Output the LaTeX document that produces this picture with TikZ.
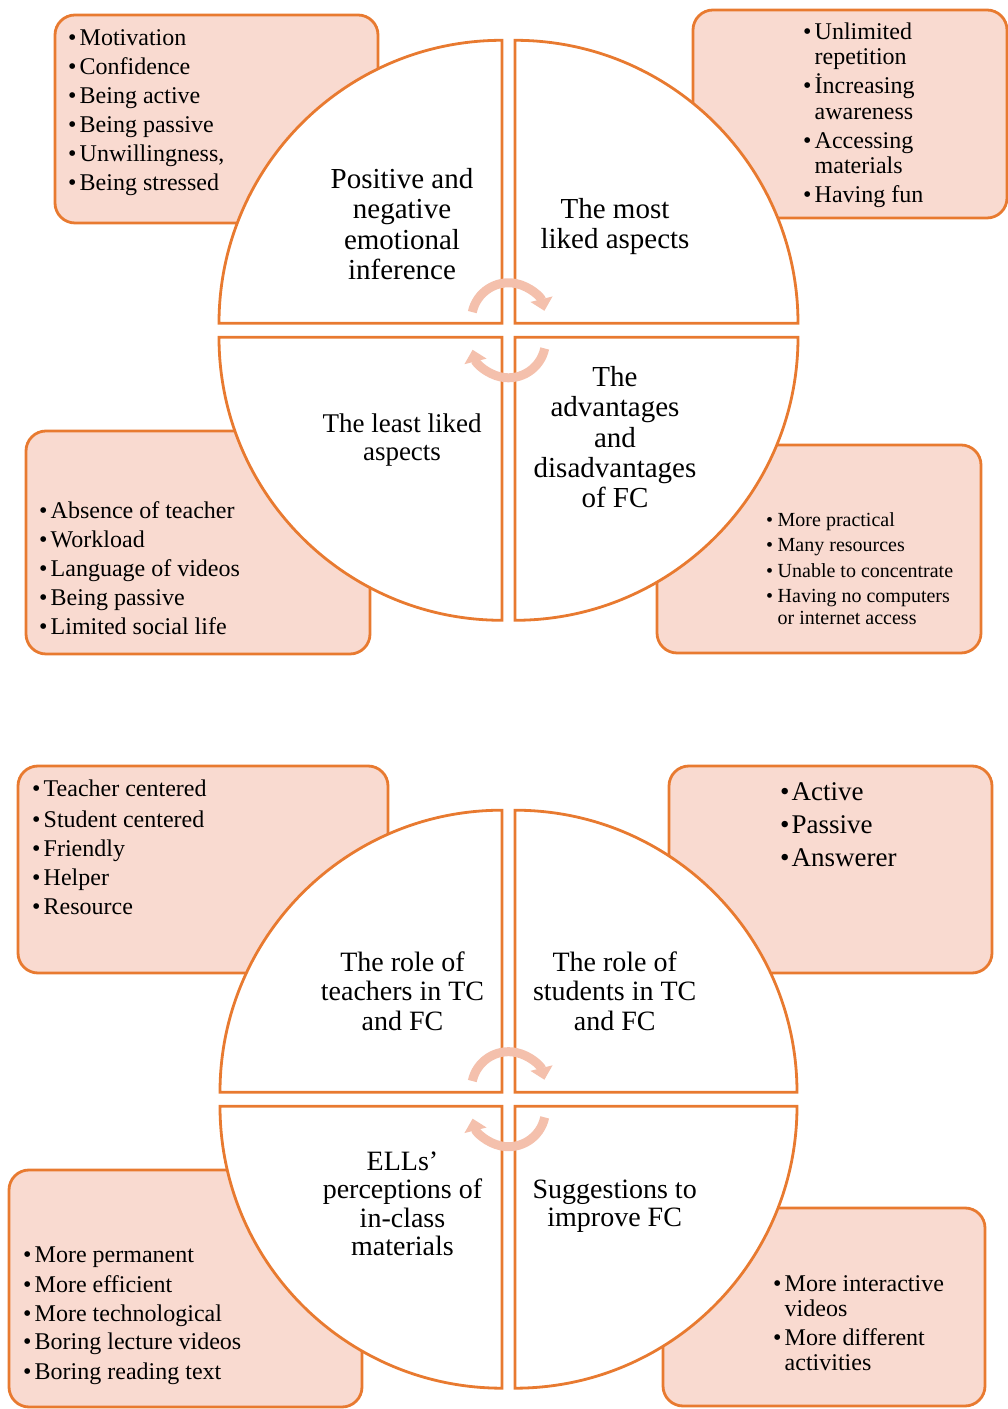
\documentclass[tikz,border=0pt]{standalone}
\usepackage{fontspec}
\setmainfont{Liberation Serif}
\usetikzlibrary{arrows.meta}

\definecolor{fcorange}{RGB}{232,122,48}
\definecolor{fcpink}{RGB}{249,218,208}
\definecolor{fcarrow}{RGB}{244,192,172}

\tikzset{
  box/.style={draw=fcorange, fill=fcpink, line width=2.8pt, rounded corners=20pt},
  quad/.style={draw=fcorange, fill=white, line width=2.8pt},
  cycarrow/.style={draw=fcarrow, line width=9pt, -{Triangle[width=22pt,length=12pt]}},
  % texts are placed by the baseline of their last line
  items/.style={anchor=base west, align=left, inner sep=0pt, font=\fontsize{24}{29}\selectfont},
  topic/.style={anchor=base, align=center, inner sep=0pt, font=\fontsize{29}{30.6}\selectfont},
  topicb/.style={topic, font=\fontsize{28}{29.3}\selectfont}
}
\newcommand{\bul}{\makebox[11.5pt][l]{\textbullet}}
\newcommand{\hng}{\hspace*{11.5pt}}

\begin{document}
\begin{tikzpicture}[x=1pt, y=1pt]
  \useasboundingbox (0,0) rectangle (1008,1409);

  % upper diagram: boxes
  \draw[box] (55,1186) rectangle (378,1394);
  \draw[box] (693,1191) rectangle (1007,1399);
  \draw[box] (26,755) rectangle (370,978);
  \draw[box] (657,756) rectangle (981,964);
  % upper diagram: quarters and arrows
  \begin{scope}[shift={(508.5,1078.7)}]
    \foreach \a/\sx/\sy in {90/-1/1, 0/1/1, 180/-1/-1, 270/1/-1}
      \draw[quad] (\sx*6.5,\sy*7) -- ++(\a:283) arc[start angle=\a, end angle=\a+90, radius=283] -- cycle;
    \draw[cycarrow] (0,10.5) ++(168:37) arc[start angle=168, end angle=14, radius=37];
    \draw[cycarrow] (0,-10.5) ++(-12:37) arc[start angle=-12, end angle=-166, radius=37];
  \end{scope}

  % upper diagram: texts
  \node[topic] (emotion) at (402,1129) {Positive and\\negative\\emotional\\inference};
  \node[topic] (mostliked) at (615,1160) {The most\\liked aspects};
  \node[topic, font=\fontsize{27}{27.6}\selectfont] (leastliked) at (402,948.6) {The least liked\\aspects};
  \node[topic, font=\fontsize{29}{30.2}\selectfont] (proscons) at (615,901.5) {The\\advantages\\and\\disadvantages\\of FC};

  \node[items] (emolist) at (68,1218) {\bul Motivation\\ \bul Confidence\\ \bul Being active\\ \bul Being passive\\ \bul Unwillingness,\\ \bul Being stressed};
  \node[items, font=\fontsize{24}{25.5}\selectfont] (mostlist) at (803,1206) {\bul Unlimited\\ \hng repetition\\[3.5pt] \bul İncreasing\\ \hng awareness\\[3.5pt] \bul Accessing\\ \hng materials\\[3.5pt] \bul Having fun};
  \node[items] (leastlist) at (39,774) {\bul Absence of teacher\\ \bul Workload\\ \bul Language of videos\\ \bul Being passive\\ \bul Limited social life};
  \node[items, font=\fontsize{20}{22}\selectfont] (proslist) at (766,784) {\bul More practical\\[3.5pt] \bul Many resources\\[3.5pt] \bul Unable to concentrate\\[3.5pt] \bul Having no computers\\ \hng or internet access};

  % lower diagram: boxes
  \draw[box] (18,436) rectangle (388,643);
  \draw[box] (669,436) rectangle (992,643);
  \draw[box] (9,2) rectangle (362,239);
  \draw[box] (663,3) rectangle (985,201);
  % lower diagram: quarters and arrows
  \begin{scope}[shift={(508.5,309.8)}]
    \foreach \a/\sx/\sy in {90/-1/1, 0/1/1, 180/-1/-1, 270/1/-1}
      \draw[quad] (\sx*6.5,\sy*7) -- ++(\a:282) arc[start angle=\a, end angle=\a+90, radius=282] -- cycle;
    \draw[cycarrow] (0,10.5) ++(168:37) arc[start angle=168, end angle=14, radius=37];
    \draw[cycarrow] (0,-10.5) ++(-12:37) arc[start angle=-12, end angle=-166, radius=37];
  \end{scope}

  % lower diagram: texts
  \node[topicb] (teachers) at (402.5,378.7) {The role of\\teachers in TC\\and FC};
  \node[topicb] (students) at (614.7,378.7) {The role of\\students in TC\\and FC};
  \node[topicb, font=\fontsize{28}{28.6}\selectfont] (materials) at (402.5,153) {ELLs’\\perceptions of\\in-class\\materials};
  \node[topicb, font=\fontsize{28}{28}\selectfont] (suggestions) at (614.7,182) {Suggestions to\\improve FC};

  \node[items] (teachlist) at (32,494) {\bul Teacher centered\\[2pt] \bul Student centered\\ \bul Friendly\\ \bul Helper\\ \bul Resource};
  \node[items, font=\fontsize{27}{33}\selectfont] (studlist) at (780,542) {\bul Active\\ \bul Passive\\ \bul Answerer};
  \node[items] (matlist) at (23,30) {\bul More permanent\\ \bul More efficient\\ \bul More technological\\ \bul Boring lecture videos\\ \bul Boring reading text};
  \node[items, font=\fontsize{24}{25}\selectfont] (suglist) at (773,38) {\bul More interactive\\ \hng videos\\[4pt] \bul More different\\ \hng activities};
\end{tikzpicture}
\end{document}
